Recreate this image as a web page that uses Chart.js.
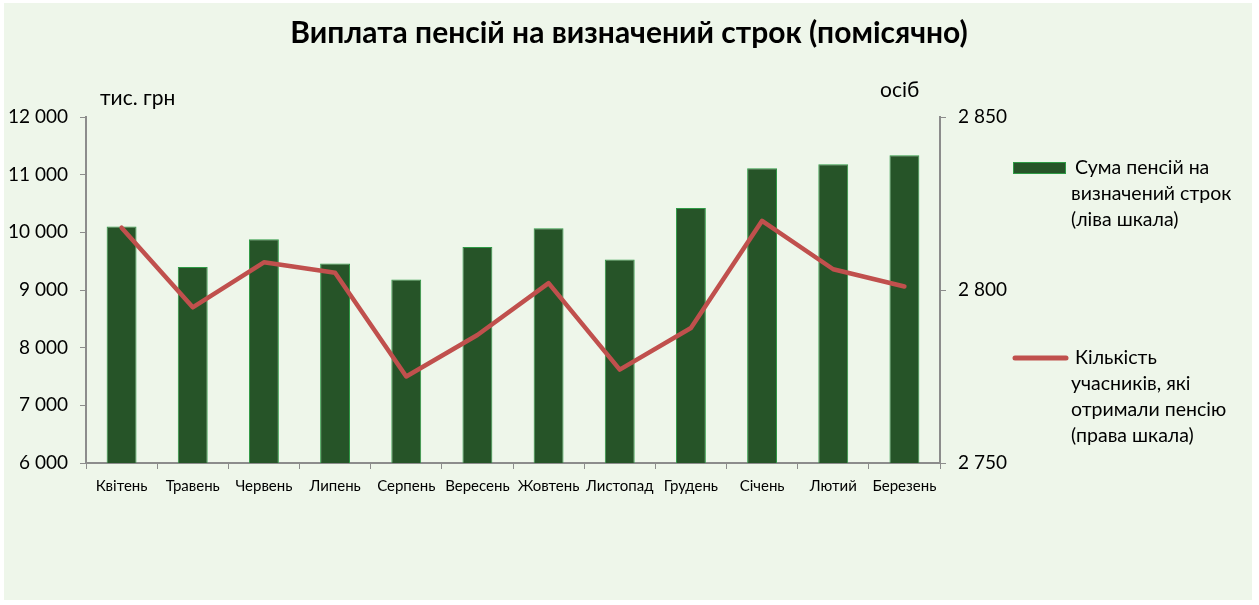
<!DOCTYPE html>
<html><head><meta charset="utf-8">
<script src="https://cdn.jsdelivr.net/npm/chart.js@4/dist/chart.umd.min.js"></script>
<style>html,body{margin:0;padding:0;background:#fff}#w{width:1259px;height:605px}</style>
</head><body><div id="w"><canvas id="c" width="1259" height="605"></canvas></div>
<script>
const categories = ["Квітень","Травень","Червень","Липень","Серпень","Вересень","Жовтень","Листопад","Грудень","Січень","Лютий","Березень"];
const pensionSum = [10100,9400,9880,9460,9180,9745,10070,9530,10420,11110,11180,11335];
const participants = [2818,2795,2808,2805,2775,2787,2802,2777,2789,2820,2806,2801];
const leftTicks = [6000,7000,8000,9000,10000,11000,12000];
const rightTicks = [2750,2800,2850];
const titleText = "Виплата пенсій на визначений строк (помісячно)";
const leftUnit = "тис. грн";
const rightUnit = "осіб";
const legend1 = ["Сума пенсій на","визначений строк","(ліва шкала)"];
const legend2 = ["Кількість","учасників, які","отримали пенсію","(права шкала)"];

const fmt = v => String(v).replace(/\B(?=(\d{3})+(?!\d))/g, " ");
const BG = "#EEF6EA";
const AX = "#8C8C8C";
const FONT = "Lato, 'Open Sans', sans-serif";

const deco = {
  id: "deco",
  beforeDraw(chart) {
    const ctx = chart.ctx;
    ctx.save();
    ctx.fillStyle = "#fff";
    ctx.fillRect(0, 0, chart.width, chart.height);
    ctx.fillStyle = BG;
    ctx.fillRect(4, 3, 1248, 597);
    ctx.restore();
  },
  afterDraw(chart) {
    const ctx = chart.ctx;
    ctx.save();
    ctx.fillStyle = "#000";
    ctx.textBaseline = "middle";
    ctx.font = "bold 30px " + FONT;
    ctx.textAlign = "center";
    ctx.fillText(titleText, 629, 33);
    ctx.font = "21px " + FONT;
    ctx.textAlign = "left";
    ctx.fillText(leftUnit, 100, 98);
    ctx.fillText(rightUnit, 880, 90);
    // legend
    ctx.fillStyle = "#265428";
    ctx.fillRect(1013, 162, 53, 12);
    ctx.strokeStyle = "#2E9A45";
    ctx.lineWidth = 1;
    ctx.strokeRect(1013.5, 162.5, 52, 11);
    ctx.strokeStyle = "#C0504D";
    ctx.lineWidth = 5;
    ctx.lineCap = "round";
    ctx.beginPath(); ctx.moveTo(1015, 358); ctx.lineTo(1066, 358); ctx.stroke();
    ctx.fillStyle = "#000";
    ctx.font = "19.5px " + FONT;
    legend1.forEach((t, i) => ctx.fillText(t, i === 0 ? 1075 : 1071, 168 + i * 26));
    legend2.forEach((t, i) => ctx.fillText(t, i === 0 ? 1075 : 1071, 358 + i * 26));
    ctx.restore();
  }
};

new Chart(document.getElementById("c"), {
  data: {
    labels: categories,
    datasets: [
      { type: "line", label: legend2.join(" "), data: participants, yAxisID: "y1",
        borderColor: "#C0504D", borderWidth: 4.5, pointRadius: 0, tension: 0, order: 0,
        borderCapStyle: "round", borderJoinStyle: "round" },
      { type: "bar", label: legend1.join(" "), data: pensionSum, yAxisID: "y",
        backgroundColor: "#265428", borderColor: "#2E9A45", borderWidth: 1,
        barPercentage: 0.42, categoryPercentage: 1, order: 1 }
    ]
  },
  options: {
    responsive: false, animation: false,
    layout: { padding: { left: 0, right: 0, top: 117, bottom: 102 } },
    plugins: { legend: { display: false }, title: { display: false }, tooltip: { enabled: false } },
    scales: {
      x: {
        grid: { display: true, drawOnChartArea: false, offset: true, tickLength: 6, color: AX },
        border: { color: AX, width: 2 },
        ticks: { color: "#000", font: { family: FONT, size: 15 }, padding: 8, maxRotation: 0, autoSkip: false },
        afterFit(s) { s.height = 40; }
      },
      y: {
        position: "left", min: 6000, max: 12000,
        afterBuildTicks(s) { s.ticks = leftTicks.map(v => ({ value: v })); },
        grid: { drawOnChartArea: false, tickLength: 6, color: AX },
        border: { color: AX, width: 2 },
        ticks: { color: "#000", font: { family: FONT, size: 19 }, padding: 12, callback: v => fmt(v) },
        afterFit(s) { s.width = 86; }
      },
      y1: {
        position: "right", min: 2750, max: 2850,
        afterBuildTicks(s) { s.ticks = rightTicks.map(v => ({ value: v })); },
        grid: { drawOnChartArea: false, tickLength: 6, color: AX },
        border: { color: AX, width: 2 },
        ticks: { color: "#000", font: { family: FONT, size: 19 }, padding: 12, callback: v => fmt(v) },
        afterFit(s) { s.width = 319; }
      }
    }
  },
  plugins: [deco]
});
</script></body></html>
